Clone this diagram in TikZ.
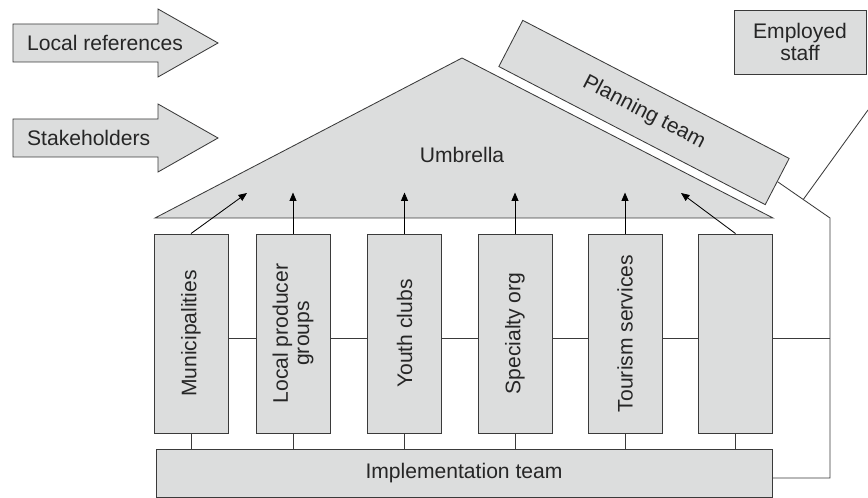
\documentclass[tikz,border=0pt]{standalone}
\usepackage{fontspec}
\setmainfont{Liberation Sans}
\usetikzlibrary{calc,arrows.meta}

\definecolor{boxgray}{HTML}{DCDDDD}
\definecolor{linegray}{HTML}{3A3A3A}

\begin{document}
\begin{tikzpicture}[x=0.025cm, y=-0.025cm, line width=0.6pt,
                    every node/.style={font=\fontsize{15}{15}\selectfont, text=black!85},
                    box/.style={draw=linegray, fill=boxgray, inner sep=0pt},
                    pillar/.style={box, minimum width=1.85cm, minimum height=4.975cm},
                    pillar text/.style={rotate=90, align=center},
                    link/.style={draw=linegray},
                    rise/.style={draw=black, -{Triangle[length=6pt,width=5pt]}}]

  \useasboundingbox (0,0) rectangle (868,498);

  % input arrows on the left
  \draw[box] (13,24) -- (158,24) -- (158,9) -- (218,43) -- (158,77) -- (158,62) -- (13,62) -- cycle;
  \node[anchor=west] (refs) at (22,43) {Local references};
  \draw[box] (13,119) -- (158,119) -- (158,104) -- (218,138) -- (158,172) -- (158,157) -- (13,157) -- cycle;
  \node[anchor=west] (holders) at (22,138) {Stakeholders};

  % roof
  \draw[box] (155,218) coordinate (eaveL) -- (462,58) coordinate (apex) -- (773,218) coordinate (eaveR) -- cycle;
  \node (umbrella) at (462,155) {Umbrella};

  \node[box, rotate=-27.4, minimum width=7.5cm, minimum height=1.3cm] (planning) at (644,112.5) {Planning team};
  \node[box, minimum width=3.3cm, minimum height=1.6cm, align=center] (staff) at (800,42) {Employed\\staff};

  % pillars
  \node[pillar, label={[pillar text]center:Municipalities}] (p1) at (191,333.5) {};
  \node[pillar, label={[pillar text]center:{Local producer\\groups}}] (p2) at (293,333.5) {};
  \node[pillar, label={[pillar text]center:Youth clubs}] (p3) at (404.5,333.5) {};
  \node[pillar, label={[pillar text]center:Specialty org}] (p4) at (515,333.5) {};
  \node[pillar, label={[pillar text]center:Tourism services}] (p5) at (625,333.5) {};
  \node[pillar] (p6) at (735.5,333.5) {};

  \node[box, minimum width=15.4cm, minimum height=1.2cm] (impl) at (464,473) {Implementation team};

  \coordinate (corner) at (830,218);
  \coordinate (foot) at (830,478);
  \coordinate (rail) at (830,338);
  \coordinate (junction) at ($(planning.east)!0.49!(corner)$);
  \coordinate (staffend) at (868,110);

  % connectors
  \draw[link] (planning.east) -- (corner) -- (foot) -- (impl.east |- foot);
  \draw[link] (staffend) -- (junction);
  \foreach \a/\b in {p1/p2,p2/p3,p3/p4,p4/p5,p5/p6}
    \draw[link] (\a.east |- rail) -- (\b.west |- rail);
  \draw[link] (p6.east |- rail) -- (rail);
  \foreach \i in {1,...,6}
    \draw[link] (p\i.south) -- (p\i.south |- impl.north);

  \draw[rise] (p1.north) -- (247,193);
  \foreach \i in {2,...,5}
    \draw[rise] (p\i.north) -- ++(0,-41);
  \draw[rise] (p6.north) -- (681,193);

\end{tikzpicture}
\end{document}
